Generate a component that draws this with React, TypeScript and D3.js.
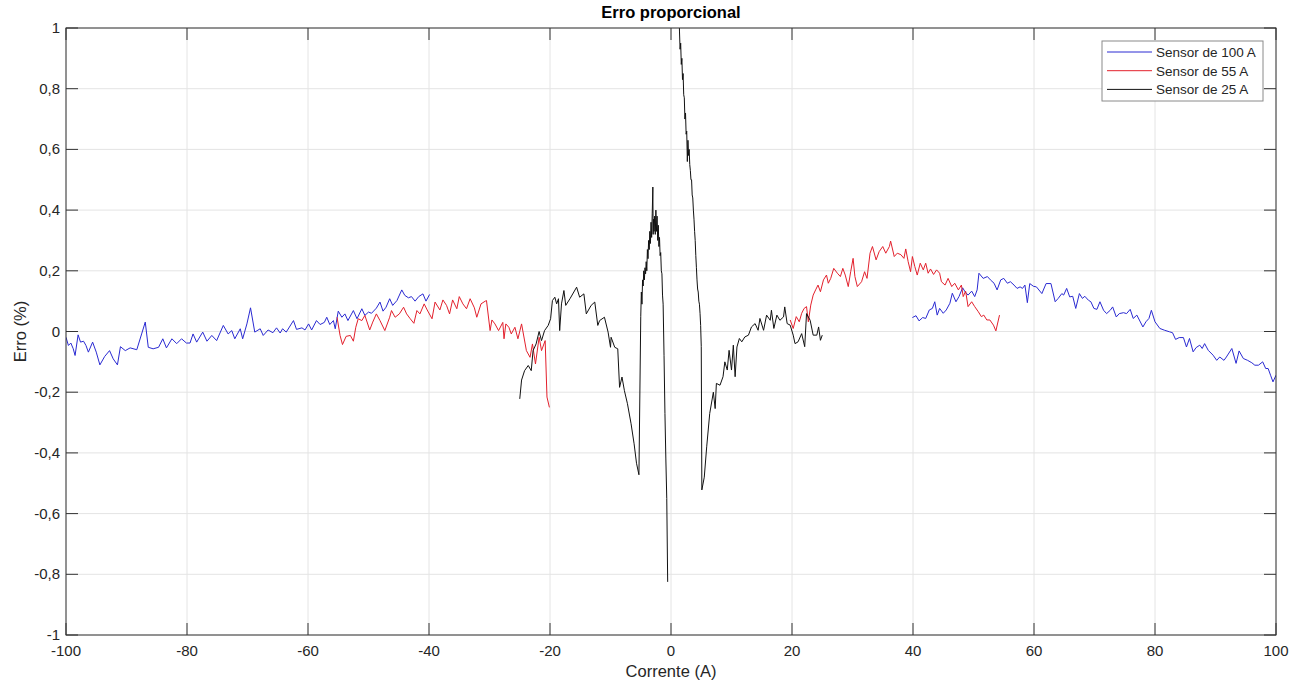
import * as d3 from 'd3';

// Sensor de 100 A, negative current branch  [corrente (A), erro (%)]
const blueLeft: [number, number][] = [
  [-100, -0.019], [-99.6, -0.046], [-99.2, -0.038], [-98.8, -0.057], [-98.5, -0.079], [-98, -0.011],
  [-97.6, -0.035], [-97.1, -0.032], [-96.7, -0.046], [-96.3, -0.068], [-95.6, -0.035], [-95, -0.068],
  [-94.4, -0.11], [-93.6, -0.082], [-92.8, -0.063], [-92.2, -0.09], [-91.5, -0.11], [-91, -0.05],
  [-90.2, -0.063], [-89.4, -0.054], [-88.3, -0.06], [-87.5, -0.008], [-86.9, 0.031], [-86.4, -0.052],
  [-85.6, -0.057], [-84.7, -0.052], [-84, -0.024], [-83.4, -0.054], [-82.5, -0.024], [-81.7, -0.04],
  [-80.9, -0.024], [-80.1, -0.038], [-79.5, -0.038], [-79, -0.008], [-78.4, -0.035], [-77.4, -0.002],
  [-76.7, -0.032], [-75.9, -0.013], [-75.1, -0.03], [-74, 0.02], [-73.2, -0.008], [-72.6, 0.003],
  [-72.1, -0.024], [-71.2, 0.009], [-70.8, -0.024], [-70.1, 0.025], [-69.5, 0.078], [-68.8, -0.002],
  [-67.9, 0.009], [-67.4, -0.013], [-66.6, 0.005], [-65.8, -0.004], [-65.2, 0.012], [-64.6, -0.005],
  [-64.2, 0.009], [-63.6, -0.002], [-62.4, 0.036], [-61.9, 0.007], [-61, 0.012], [-60.5, 0.005],
  [-59.9, 0.025], [-59.4, 0.005], [-58.6, 0.036], [-58, 0.023], [-57.3, 0.03], [-56.9, 0.047],
  [-56.4, 0.023], [-55.8, 0.036], [-55.5, 0.009], [-55, 0.067], [-54.4, 0.047], [-53.9, 0.058],
  [-53.4, 0.036], [-52.5, 0.069], [-51.9, 0.042], [-51.1, 0.075], [-50.6, 0.053], [-50, 0.064],
  [-49.5, 0.06], [-48.7, 0.077], [-48.1, 0.097], [-47.6, 0.067], [-47.1, 0.08], [-46.5, 0.108],
  [-46, 0.086], [-45.3, 0.102], [-44.5, 0.137], [-44, 0.119], [-43.4, 0.111], [-42.9, 0.115],
  [-42.3, 0.1], [-41.7, 0.115], [-41, 0.124], [-40.5, 0.1], [-39.9, 0.122],
];

// Sensor de 100 A, positive current branch
const blueRight: [number, number][] = [
  [39.9, 0.046], [40.5, 0.052], [41, 0.035], [41.6, 0.046], [42.1, 0.043], [42.7, 0.071],
  [43.2, 0.076], [43.6, 0.098], [44, 0.054], [44.4, 0.076], [45, 0.06], [45.5, 0.071],
  [46.1, 0.093], [46.5, 0.126], [47.1, 0.098], [47.6, 0.115], [48.2, 0.144], [48.6, 0.131],
  [49.1, 0.12], [49.7, 0.133], [50.2, 0.115], [50.6, 0.137], [50.9, 0.192], [51.6, 0.175],
  [52.3, 0.181], [52.8, 0.17], [53.4, 0.159], [53.9, 0.137], [54.5, 0.17], [55, 0.175],
  [55.6, 0.159], [56.1, 0.164], [56.7, 0.153], [57.2, 0.142], [57.7, 0.147], [58.1, 0.142],
  [58.5, 0.153], [58.9, 0.095], [59.3, 0.158], [59.9, 0.149], [60.4, 0.147], [61.3, 0.125],
  [62, 0.158], [62.8, 0.158], [63.5, 0.098], [64, 0.109], [64.6, 0.125], [64.9, 0.12],
  [65.4, 0.142], [65.9, 0.114], [66.4, 0.116], [66.9, 0.076], [67.5, 0.125], [68, 0.109],
  [68.4, 0.116], [69, 0.103], [69.4, 0.098], [69.9, 0.076], [70.4, 0.073], [70.9, 0.098],
  [71.5, 0.07], [72, 0.059], [72.6, 0.07], [73, 0.081], [73.6, 0.048], [74.1, 0.059],
  [74.8, 0.062], [75.3, 0.059], [75.9, 0.073], [76.4, 0.043], [77, 0.054], [78, 0.015],
  [78.5, 0.032], [79, 0.043], [79.4, 0.07], [80, 0.032], [80.8, 0.01], [81.6, 0.004],
  [82.4, -0.001], [82.9, -0.004], [83.4, -0.026], [84, -0.02], [84.7, -0.02], [85.2, -0.051],
  [85.7, -0.023], [86.3, -0.067], [86.8, -0.053], [87.4, -0.045], [87.8, -0.056], [88.2, -0.04],
  [88.8, -0.062], [89.6, -0.078], [90.2, -0.095], [90.7, -0.084], [91.4, -0.095], [91.8, -0.084],
  [92.7, -0.056], [93.4, -0.105], [93.9, -0.064], [94.6, -0.089], [95.3, -0.095], [96, -0.103],
  [96.5, -0.111], [97.1, -0.111], [97.8, -0.1], [98.3, -0.122], [98.7, -0.122], [99.1, -0.144],
  [99.5, -0.166], [100, -0.144],
];

// Sensor de 55 A
const redLeft: [number, number][] = [
  [-55.2, 0.047], [-54.7, -0.013], [-54.3, -0.043], [-53.7, -0.016], [-53, -0.013], [-52.5, -0.032],
  [-52.1, 0.014], [-51.7, 0.042], [-51.1, 0.036], [-50.6, 0.053], [-49.8, 0.005], [-49.3, 0.031],
  [-48.7, 0.058], [-48.1, 0.036], [-47.3, 0.003], [-46.5, 0.047], [-46.2, 0.069], [-45.6, 0.047],
  [-44.9, 0.058], [-44.2, 0.08], [-43.7, 0.058], [-43.1, 0.042], [-42.5, 0.027], [-42, 0.069],
  [-41.5, 0.058], [-40.8, 0.091], [-40.3, 0.071], [-39.5, 0.042], [-39, 0.097], [-38.2, 0.071],
  [-37.7, 0.104], [-37.1, 0.086], [-36.6, 0.058], [-36.1, 0.104], [-35.4, 0.075], [-35, 0.115],
  [-34.4, 0.091], [-33.8, 0.075], [-33.2, 0.108], [-32.5, 0.078], [-32.1, 0.047], [-31.4, 0.091],
  [-30.7, 0.1], [-30.5, 0.102], [-29.9, 0.003], [-29.6, 0.038], [-29.1, 0.025], [-28.5, 0.003],
  [-27.8, 0.03], [-27.6, -0.024], [-27.3, 0.025], [-26.8, 0.014], [-26.4, -0.008], [-25.8, 0.014],
  [-25.3, -0.024], [-24.7, 0.025], [-23.9, -0.063], [-23.3, -0.085], [-22.9, -0.041], [-22.4, -0.107],
  [-21.8, -0.019], [-21.4, -0.063], [-20.8, -0.03], [-20.5, -0.216], [-20.1, -0.25],
];

const redRight: [number, number][] = [
  [19.7, 0.038], [20.2, 0.01], [20.7, 0.049], [21.2, 0.032], [21.6, 0.06], [22, 0.076],
  [22.4, 0.082], [22.7, 0.032], [23.1, 0.087], [23.5, 0.12], [23.9, 0.137], [24.3, 0.153],
  [24.7, 0.131], [25.2, 0.17], [25.7, 0.186], [26, 0.159], [26.4, 0.175], [26.9, 0.208],
  [27.5, 0.192], [28, 0.181], [28.4, 0.208], [28.8, 0.186], [29.3, 0.148], [29.7, 0.197],
  [30.1, 0.241], [30.4, 0.181], [30.8, 0.148], [31.5, 0.164], [32, 0.197], [32.4, 0.175],
  [32.9, 0.258], [33.3, 0.28], [33.9, 0.236], [34.4, 0.263], [35, 0.28], [35.5, 0.258],
  [36.1, 0.28], [36.3, 0.298], [36.9, 0.247], [37.4, 0.258], [38, 0.253], [38.5, 0.241],
  [38.8, 0.272], [39.2, 0.23], [39.6, 0.197], [39.9, 0.247], [40.3, 0.214], [40.7, 0.186],
  [41.2, 0.225], [41.7, 0.203], [42.1, 0.225], [42.5, 0.192], [42.9, 0.206], [43.4, 0.188],
  [43.9, 0.203], [44.4, 0.192], [44.7, 0.164], [45.3, 0.153], [45.8, 0.175], [46.4, 0.148],
  [46.9, 0.159], [47.5, 0.137], [48, 0.153], [48.3, 0.115], [48.7, 0.133], [49.1, 0.082],
  [49.7, 0.098], [50.2, 0.082], [50.8, 0.065], [51.3, 0.049], [51.7, 0.054], [52.2, 0.038],
  [52.7, 0.038], [53.3, 0.021], [53.7, 0.002], [54.3, 0.054],
];

// Sensor de 25 A (no reading at 0 A)
const blackLeft: [number, number][] = [
  [-25, -0.222], [-24.7, -0.16], [-24.2, -0.129], [-23.6, -0.112], [-23.1, -0.129], [-22.8, -0.063],
  [-22.3, -0.041], [-21.8, 0.0], [-21.4, -0.03], [-20.9, 0.003], [-20.3, 0.02], [-19.9, 0.042],
  [-19.6, 0.102], [-19.2, 0.113], [-18.9, 0.091], [-18.6, 0.108], [-18.4, 0.003], [-18.1, 0.091],
  [-17.7, 0.135], [-17.4, 0.086], [-16.7, 0.108], [-15.6, 0.146], [-15.1, 0.113], [-14.4, 0.124],
  [-14, 0.058], [-13.2, 0.086], [-12.6, 0.097], [-12.1, 0.02], [-11.8, 0.036], [-11, 0.047],
  [-10.4, -0.002], [-10, -0.052], [-9.9, -0.019], [-9.3, -0.052], [-8.8, -0.057], [-8.5, -0.184],
  [-8.1, -0.15], [-7.7, -0.195], [-7.2, -0.238], [-6.6, -0.304], [-6.1, -0.37], [-5.7, -0.434],
  [-5.3, -0.472], [-5.0, 0.05], [-4.9, 0.13], [-4.8, 0.09], [-4.7, 0.17], [-4.6, 0.15],
  [-4.5, 0.2], [-4.4, 0.17], [-4.3, 0.21], [-4.2, 0.19], [-4.1, 0.23], [-4.0, 0.2],
  [-3.9, 0.27], [-3.8, 0.24], [-3.7, 0.3], [-3.6, 0.27], [-3.5, 0.33], [-3.4, 0.29],
  [-3.3, 0.36], [-3.2, 0.31], [-3.1, 0.39], [-3.0, 0.476], [-2.95, 0.32], [-2.9, 0.37],
  [-2.8, 0.33], [-2.7, 0.38], [-2.6, 0.32], [-2.5, 0.4], [-2.4, 0.33], [-2.3, 0.38],
  [-2.2, 0.3], [-2.1, 0.35], [-2.0, 0.28], [-1.9, 0.31], [-1.8, 0.25], [-1.7, 0.26],
  [-1.6, 0.2], [-1.5, 0.19], [-1.4, 0.12], [-1.3, 0.09], [-1.15, -0.08], [-1.0, -0.27],
  [-0.85, -0.42], [-0.7, -0.55], [-0.55, -0.825],
];

const blackRight: [number, number][] = [
  [1.0, 1.5], [1.4, 0.99], [1.5, 0.93], [1.6, 0.95], [1.7, 0.88], [1.8, 0.9], [1.9, 0.83],
  [2.0, 0.85], [2.1, 0.78], [2.2, 0.77], [2.3, 0.7], [2.4, 0.72], [2.5, 0.65], [2.6, 0.66],
  [2.7, 0.56], [2.8, 0.63], [2.9, 0.58], [3.0, 0.6], [3.1, 0.55], [3.2, 0.53], [3.3, 0.5],
  [3.4, 0.5], [3.5, 0.45], [3.6, 0.44], [3.7, 0.4], [3.8, 0.37], [3.9, 0.33], [4.0, 0.3],
  [4.1, 0.25], [4.2, 0.21], [4.3, 0.17], [4.4, 0.14], [4.5, 0.13], [4.6, 0.1], [4.7, 0.09],
  [4.8, 0.06], [4.9, 0.02], [5.0, -0.05], [5.1, -0.522], [5.5, -0.48], [5.9, -0.38],
  [6.4, -0.27], [7, -0.2], [7.3, -0.254], [7.5, -0.171], [8.1, -0.177], [8.6, -0.149],
  [8.9, -0.1], [9.3, -0.127], [9.6, -0.062], [10, -0.127], [10.3, -0.045], [10.6, -0.149],
  [10.9, -0.051], [11.3, -0.023], [11.7, -0.034], [12.2, -0.018], [12.8, -0.012], [13.3, 0.015],
  [13.9, 0.026], [14.4, 0.004], [14.7, 0.043], [15.3, 0.004], [15.8, 0.054], [16.4, 0.037],
  [16.6, 0.07], [17, 0.01], [17.5, 0.054], [18, 0.037], [18.6, 0.048], [18.8, 0.081],
  [19.2, 0.026], [19.7, 0.021], [20.2, -0.012], [20.5, -0.04], [21, -0.034], [21.6, -0.007],
  [22.1, -0.05], [22.4, 0.059], [23, 0.037], [23.5, -0.012], [24.1, -0.012], [24.4, 0.015],
  [24.7, -0.029], [25, -0.012],
];

const xTicks = [-100, -80, -60, -40, -20, 0, 20, 40, 60, 80, 100];
const yTicks = [-1, -0.8, -0.6, -0.4, -0.2, 0, 0.2, 0.4, 0.6, 0.8, 1];

const legendItems = [
  { label: 'Sensor de 100 A', color: '#2a2ad2' },
  { label: 'Sensor de 55 A', color: '#e3202c' },
  { label: 'Sensor de 25 A', color: '#111111' },
];

const W = 1301;
const H = 684;
const margin = { top: 28, right: 25, bottom: 49, left: 66 };
const font = '"Liberation Sans", Arial, Helvetica, sans-serif';
const axisColor = '#333333';

const fmt = (d: number) => (Number.isInteger(d) ? String(d) : d.toFixed(1).replace('.', ','));

export default function App() {
  const x = d3.scaleLinear().domain([-100, 100]).range([margin.left, W - margin.right]);
  const y = d3.scaleLinear().domain([-1, 1]).range([H - margin.bottom, margin.top]);
  const line = d3
    .line<[number, number]>()
    .x((d) => x(d[0]))
    .y((d) => y(d[1]));

  const x0 = x(-100);
  const x1 = x(100);
  const y0 = y(-1);
  const y1 = y(1);
  const tick = 12;

  const series = [
    { data: blueLeft, color: legendItems[0].color },
    { data: blueRight, color: legendItems[0].color },
    { data: redLeft, color: legendItems[1].color },
    { data: redRight, color: legendItems[1].color },
    { data: blackLeft, color: legendItems[2].color },
    { data: blackRight, color: legendItems[2].color },
  ];

  const lg = { x: 1102, y: 41, w: 161, h: 60, row: 18.7 };

  return (
    <svg
      width={W}
      height={H}
      style={{ position: 'absolute', left: 0, top: 0, background: '#fff' }}
      fontFamily={font}
    >
      <defs>
        <clipPath id="plot">
          <rect x={x0} y={y1} width={x1 - x0} height={y0 - y1} />
        </clipPath>
      </defs>
      <rect x={0} y={0} width={W} height={H} fill="#fff" />

      {/* grid */}
      <g stroke="#e4e4e4" strokeWidth={1}>
        {xTicks.map((t) => (
          <line key={'gx' + t} x1={x(t)} x2={x(t)} y1={y1} y2={y0} />
        ))}
        {yTicks.map((t) => (
          <line key={'gy' + t} x1={x0} x2={x1} y1={y(t)} y2={y(t)} />
        ))}
      </g>

      {/* data */}
      <g clipPath="url(#plot)" fill="none" strokeWidth={1} strokeLinejoin="round">
        {series.map((s, i) => (
          <path key={i} d={line(s.data) || ''} stroke={s.color} />
        ))}
      </g>

      {/* box and ticks */}
      <g stroke={axisColor} strokeWidth={1} fill="none">
        <rect x={x0} y={y1} width={x1 - x0} height={y0 - y1} />
        {xTicks.map((t) => (
          <g key={'tx' + t}>
            <line x1={x(t)} x2={x(t)} y1={y0} y2={y0 - tick} />
            <line x1={x(t)} x2={x(t)} y1={y1} y2={y1 + tick} />
          </g>
        ))}
        {yTicks.map((t) => (
          <g key={'ty' + t}>
            <line x1={x0} x2={x0 + tick} y1={y(t)} y2={y(t)} />
            <line x1={x1} x2={x1 - tick} y1={y(t)} y2={y(t)} />
          </g>
        ))}
      </g>

      {/* tick labels */}
      <g fontSize={15} fill="#262626">
        {xTicks.map((t) => (
          <text key={'lx' + t} x={x(t)} y={y0 + 21} textAnchor="middle">
            {fmt(t)}
          </text>
        ))}
        {yTicks.map((t) => (
          <text key={'ly' + t} x={x0 - 6} y={y(t) + 5} textAnchor="end">
            {fmt(t)}
          </text>
        ))}
      </g>

      {/* title and axis labels */}
      <text x={(x0 + x1) / 2} y={18} textAnchor="middle" fontSize={16.5} fontWeight="bold" fill="#000">
        Erro proporcional
      </text>
      <text x={(x0 + x1) / 2} y={H - 7} textAnchor="middle" fontSize={16.5} fill="#262626">
        Corrente (A)
      </text>
      <text
        transform={`translate(26,${(y0 + y1) / 2}) rotate(-90)`}
        textAnchor="middle"
        fontSize={16.5}
        fill="#262626"
      >
        Erro (%)
      </text>

      {/* legend */}
      <g>
        <rect x={lg.x} y={lg.y} width={lg.w} height={lg.h} fill="#fff" stroke="#8a8a8a" strokeWidth={1} />
        {legendItems.map((it, i) => {
          const cy = lg.y + 11 + i * lg.row;
          return (
            <g key={it.label}>
              <line x1={lg.x + 5} x2={lg.x + 50} y1={cy} y2={cy} stroke={it.color} strokeWidth={1} />
              <text x={lg.x + 54} y={cy + 5} fontSize={13.5} fill="#262626">
                {it.label}
              </text>
            </g>
          );
        })}
      </g>
    </svg>
  );
}
